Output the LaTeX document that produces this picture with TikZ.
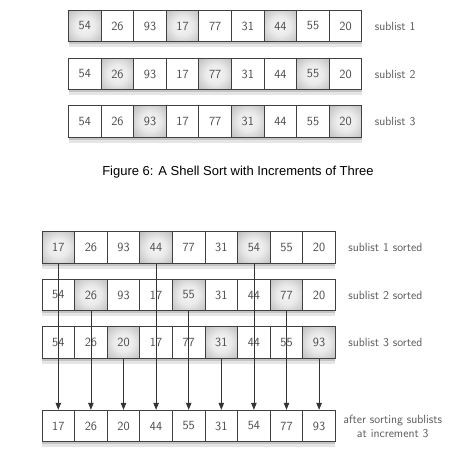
\documentclass[tikz,border=0pt]{standalone}
\usepackage{fontspec}
\newfontfamily\capfont{Liberation Sans}
\usetikzlibrary{positioning,arrows.meta,shadows}
\pgfdeclareradialshading{cellglow}{\pgfpoint{0bp}{0bp}}{color(0bp)=(black!4);
  color(15bp)=(black!8); color(35bp)=(black!25); color(50bp)=(black!42);
  color(72bp)=(black!52)}
\tikzset{
  cell/.style={draw=black!75, line width=.9pt, fill=white,
    minimum width=32.6pt, minimum height=31.5pt, inner sep=0pt,
    text=black!70, font=\sffamily\fontsize{12.5}{14}\selectfont,
    general shadow={fill=black, opacity=.1, shadow yshift=-5.5pt},
    general shadow={fill=black, opacity=.14, shadow yshift=-2.5pt}},
  hot/.style={cell, shading=cellglow},
  k0/.style={hot}, k1/.style={cell}, k2/.style={cell},
  lbl/.style={text=black!65, font=\sffamily\fontsize{12}{14}\selectfont},
}
\begin{document}
\begin{tikzpicture}[x=1pt,y=-1pt,>={Triangle[length=7pt,width=5.5pt]}]
  \useasboundingbox (0,0) rectangle (450,452);
  % increments of three
  \foreach \r/\y in {1/26,2/74,3/121.5}{
    \foreach \v [count=\i] in {54,26,93,17,77,31,44,55,20}{
      \pgfmathtruncatemacro\k{mod(\i-\r+3,3)}
      \node[k\k] (t\r-\i) at (84.8+32.6*\i-32.6,\y) {\v};
    }
    \node[lbl, anchor=west, right=9pt of t\r-9] (tl\r) {sublist \r};
  }
  \node[font=\capfont\fontsize{13}{15}\selectfont] (cap) at (238,172)
    {Figure 6: A Shell Sort with Increments of Three};
  % sorted sublists
  \foreach \r/\y/\vals in {1/247.5/{17,26,93,44,77,31,54,55,20},
                           2/295/{54,26,93,17,55,31,44,77,20},
                           3/342.5/{54,26,20,17,77,31,44,55,93}}{
    \foreach \v [count=\i] in \vals{
      \pgfmathtruncatemacro\k{mod(\i-\r+3,3)}
      \node[k\k] (b\r-\i) at (58.3+32.6*\i-32.6,\y) {\v};
    }
    \node[lbl, anchor=west, right=9pt of b\r-9] (bl\r) {sublist \r\ sorted};
  }
  \foreach \v [count=\i] in {17,26,20,44,55,31,54,77,93}
    \node[cell] (f\i) at (58.3+32.6*\i-32.6,426) {\v};
  \node[lbl, align=center, anchor=west, right=4pt of f9] (fl)
    {after sorting sublists\\at increment 3};
  \foreach \i in {1,...,9}{
    \pgfmathtruncatemacro\r{mod(\i-1,3)+1}
    \draw[->, black!80, line width=.8pt] (b\r-\i.south) -- (f\i.north);
  }
\end{tikzpicture}
\end{document}
